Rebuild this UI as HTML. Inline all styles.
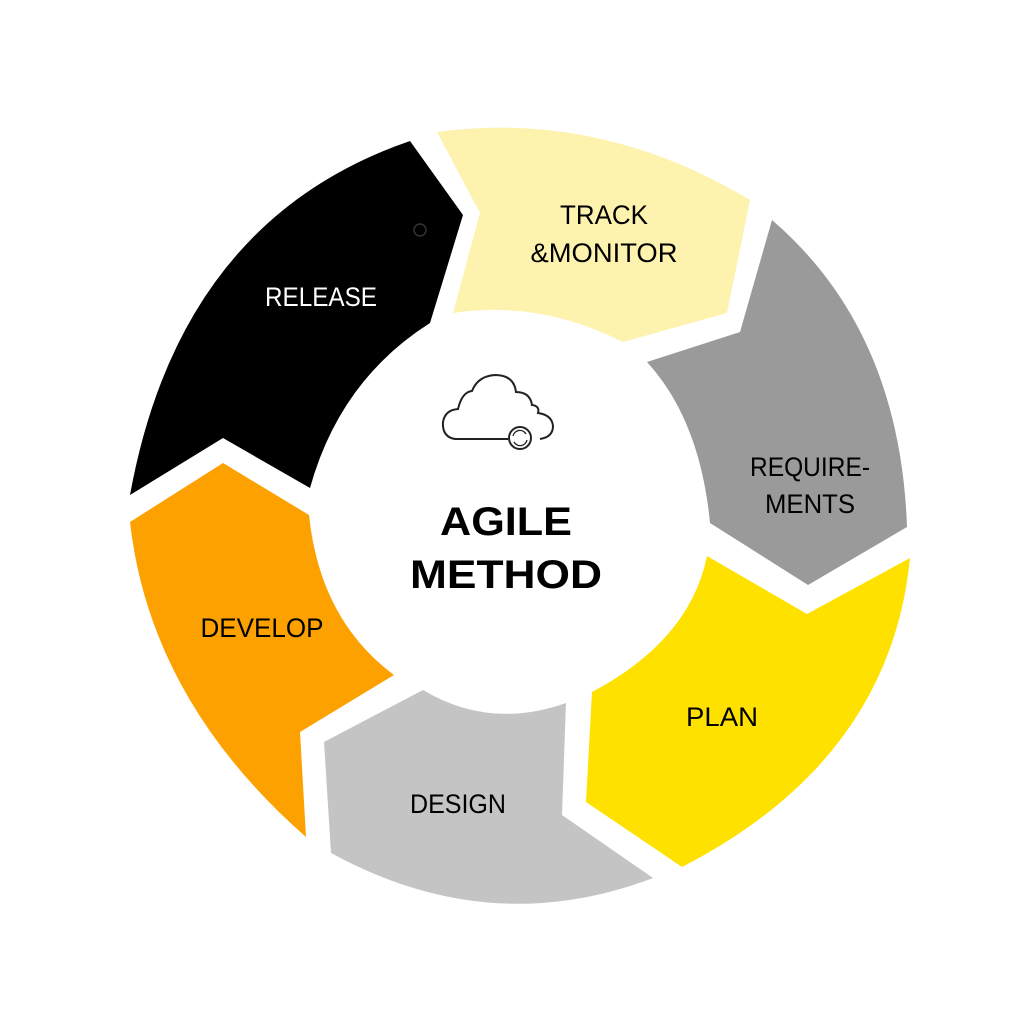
<!DOCTYPE html>
<html><head><meta charset="utf-8"><style>html,body{margin:0;padding:0;background:#fff}svg{display:block}</style></head>
<body>
<svg width="1024" height="1024" viewBox="0 0 1024 1024" xmlns="http://www.w3.org/2000/svg">
<rect width="1024" height="1024" fill="#fff"/>
<!-- Release -->
<path d="M130,495 Q180,220 410,141 L463,215 L430,323 Q340,380 310,488 L223,438 Z" fill="#000"/>
<circle cx="420" cy="230" r="6" fill="none" stroke="#333" stroke-width="1.5"/>
<!-- Track -->
<path d="M437,132 Q600,110 750,200 L727,313 L623,342 Q540,300 453,313 L480,213 Z" fill="#fdf2ae"/>
<!-- Requirements -->
<path d="M772,220 Q900,330 907,527 L808,585 L710,523 Q700,420 647,362 L740,332 Z" fill="#9a9a9a"/>
<!-- Plan -->
<path d="M910,558 Q890,760 682,867 L586,802 L592,692 Q690,640 707,556 L807,614 Z" fill="#ffe100"/>
<!-- Design -->
<path d="M653,878 Q490,940 331,853 L324,742 L423,690 Q490,730 566,703 L562,815 Z" fill="#c4c4c4"/>
<!-- Develop -->
<path d="M306,837 Q150,700 130,522 L223,463 L309,515 Q320,620 394,675 L300,732 Z" fill="#fda100"/>
<!-- Cloud icon -->
<g fill="none" stroke="#222" stroke-width="2">
<path d="M508,439 L455,439 Q442,437 443,422 Q445,410 458,409 Q462,392 472,391 Q478,376 495,375 Q514,375 516,392 Q530,392 532,405 Q540,406 538,413 Q552,415 553,426 Q553,437 540,439"/>
<circle cx="520" cy="438" r="11"/>
<path d="M513,436 A7,7 0 0 1 526,434 M527,440 A7,7 0 0 1 514,442" stroke-width="1.3"/>
</g>
<g font-family="Liberation Sans, sans-serif" text-anchor="middle">
<text x="506" y="535" font-size="40" font-weight="bold" textLength="132" lengthAdjust="spacingAndGlyphs">AGILE</text>
<text x="506" y="588" font-size="40" font-weight="bold" textLength="192" lengthAdjust="spacingAndGlyphs">METHOD</text>
<g font-size="27">
<text x="321" y="306" fill="#fff" textLength="112" lengthAdjust="spacingAndGlyphs">RELEASE</text>
<text x="604" y="224" textLength="88" lengthAdjust="spacingAndGlyphs">TRACK</text>
<text x="604" y="262" textLength="147" lengthAdjust="spacingAndGlyphs">&amp;MONITOR</text>
<text x="810" y="476" textLength="120" lengthAdjust="spacingAndGlyphs">REQUIRE-</text>
<text x="810" y="513" textLength="90" lengthAdjust="spacingAndGlyphs">MENTS</text>
<text x="722" y="726" textLength="72" lengthAdjust="spacingAndGlyphs">PLAN</text>
<text x="458" y="813" textLength="96" lengthAdjust="spacingAndGlyphs">DESIGN</text>
<text x="262" y="637" textLength="123" lengthAdjust="spacingAndGlyphs">DEVELOP</text>
</g>
</g>
</svg>
</body></html>
